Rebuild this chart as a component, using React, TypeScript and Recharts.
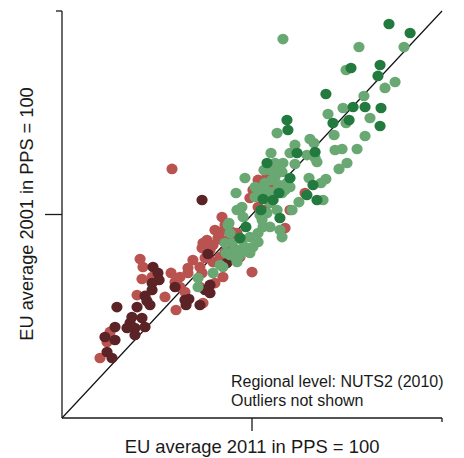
import React from "react";
import {
  ScatterChart,
  Scatter,
  XAxis,
  YAxis,
  ReferenceLine,
} from "recharts";

// GDP per head in PPS, EU = 100: x = 2011, y = 2001
type Pt = { x: number; y: number };
const pts = (rows: number[][]): Pt[] => rows.map(([x, y]) => ({ x, y }));

const lowRegions = pts([
  [73.7, 107.1], [47.9, 74.2], [50.5, 71.3], [51.1, 67.8], [47.4, 62.9],
  [43.7, 60.0], [28.9, 54.5], [46.3, 55.5], [39.5, 54.5], [36.8, 49.6],
  [35.8, 46.7], [42.1, 49.1], [43.7, 44.7], [38.4, 44.2], [38.4, 40.8],
  [27.9, 44.7], [22.6, 39.8], [27.9, 38.3], [23.7, 32.4], [26.3, 29.5],
  [59.5, 64.4], [64.7, 58.0], [76.8, 80.6], [86.8, 76.2], [77.9, 65.4],
  [75.3, 62.9], [66.8, 58.5], [65.3, 55.5], [72.6, 55.5], [47.4, 66.3],
  [77.9, 61.4], [34.2, 44.2], [44.7, 57.5],
]);

const midLowRegions = pts([
  [57.9, 122.4], [41.1, 78.1], [42.1, 68.3], [47.4, 69.3], [57.4, 71.3],
  [59.5, 66.8], [62.1, 69.3], [66.3, 71.3], [64.7, 61.9], [54.2, 59.5],
  [60.0, 53.1], [39.5, 60.4], [25.3, 42.3], [23.7, 37.3], [20.0, 29.5],
  [84.2, 98.8], [85.8, 94.8], [83.2, 91.4], [74.2, 86.0], [79.5, 85.0],
  [77.9, 82.6], [75.3, 78.6], [68.9, 77.6], [66.3, 73.7], [72.6, 74.2],
  [79.5, 76.7], [83.2, 79.1], [89.5, 91.4], [88.4, 88.5], [84.2, 87.5],
  [72.6, 64.4], [80.5, 66.3], [62.1, 64.4], [107.9, 119.4], [105.3, 116.0],
  [100.5, 112.0], [98.9, 108.1], [106.8, 102.2], [103.2, 103.7], [120.0, 102.2],
  [117.4, 93.4], [80.5, 92.4], [82.1, 88.5], [76.3, 87.5], [73.7, 83.5],
  [85.8, 81.6], [93.7, 79.1], [92.1, 90.9], [103.2, 117.0], [110.5, 113.0],
  [127.9, 110.6], [100.0, 71.7], [73.7, 71.3], [84.7, 69.3], [74.2, 56.5],
  [89.5, 85.0], [42.6, 74.2],
]);

const midHighRegions = pts([
  [116.3, 186.2], [156.3, 182.3], [180.0, 182.3], [149.5, 171.0], [175.3, 165.1],
  [170.0, 162.2], [158.9, 158.2], [147.9, 152.3], [140.0, 149.4], [149.5, 145.0],
  [162.1, 147.4], [113.2, 140.0], [143.2, 139.1], [159.5, 138.6], [155.3, 132.2],
  [147.4, 132.2], [130.5, 137.1], [122.6, 134.2], [120.0, 130.2], [132.6, 135.1],
  [128.9, 129.2], [133.2, 127.8], [134.2, 125.8], [150.0, 125.3], [145.8, 122.4],
  [122.6, 124.8], [112.1, 125.3], [114.2, 121.9], [110.0, 130.2], [96.3, 117.9],
  [91.6, 110.6], [130.0, 117.9], [138.9, 117.4], [136.3, 115.5], [120.0, 113.5],
  [124.7, 106.1], [137.4, 107.1], [114.2, 114.5], [112.1, 118.4], [106.3, 121.9],
  [108.9, 111.1], [115.8, 110.6], [107.9, 100.7], [105.3, 97.3], [94.7, 103.7],
  [101.6, 108.6], [121.1, 102.2], [116.3, 125.3], [106.8, 115.5], [110.5, 117.0],
  [118.4, 115.5], [117.4, 112.0], [101.6, 113.5], [105.3, 110.6], [109.5, 105.7],
  [113.2, 102.2], [104.2, 99.8], [105.8, 93.9], [109.5, 93.9], [103.2, 90.9],
  [98.9, 88.9], [94.7, 87.5], [115.8, 88.9], [114.7, 92.4], [87.4, 94.8],
  [88.4, 90.9], [89.5, 86.0], [96.3, 84.0], [93.7, 82.6], [100.5, 84.0],
  [103.2, 86.5], [98.9, 81.1], [90.0, 81.6], [85.8, 86.0], [93.7, 102.2],
  [95.3, 98.8], [143.7, 131.7], [109.5, 121.9], [115.8, 120.9], [113.2, 112.0],
  [104.2, 113.0], [92.1, 102.2], [87.9, 95.8], [86.3, 81.1], [91.1, 79.1],
  [84.7, 74.2], [79.5, 71.3], [71.6, 68.8], [71.6, 64.4], [83.2, 75.2],
  [88.4, 80.1], [93.7, 80.1], [92.1, 76.7],
]);

const highRegions = pts([
  [172.1, 193.6], [183.2, 189.2], [152.1, 172.0], [167.4, 173.5], [166.3, 168.1],
  [138.9, 159.2], [153.2, 152.8], [159.5, 152.8], [167.9, 152.3], [151.1, 146.4],
  [142.6, 145.0], [167.4, 143.5], [118.4, 146.4], [118.9, 141.5], [123.7, 130.2],
  [133.2, 130.7], [107.9, 125.3], [120.0, 117.9], [132.1, 114.5], [128.9, 109.6],
  [134.2, 107.1], [105.8, 107.6], [111.1, 107.1], [114.7, 98.3], [96.8, 93.9],
  [93.7, 88.5], [114.2, 110.6], [104.7, 102.2],
]);

const diagonal = [
  { x: 0, y: 0 },
  { x: 200, y: 200 },
];

const yTickLen: Record<number, number> = { 100: 17, 200: 6 };
const xTickLen: Record<number, number> = { 100: 13, 200: 4 };

const dot = (fill: string) => (p: any) =>
  <ellipse cx={p.cx} cy={p.cy} rx={5.6} ry={5.3} fill={fill} />;

const font = "'Liberation Sans', Arial, sans-serif";

export default function App() {
  return (
    <div style={{ position: "relative", width: 464, height: 458, background: "#fff" }}>
      <style>{"body{margin:0}"}</style>
      <ScatterChart
        width={464}
        height={458}
        margin={{ top: 11, right: 22, bottom: 0, left: 0 }}
      >
        <XAxis
          type="number"
          dataKey="x"
          domain={[0, 200]}
          ticks={[100, 200]}
          interval={0}
          height={40}
          tickSize={0}
          tickMargin={0}
          tickLine={false}
          axisLine={{ stroke: "#1a1a1a", strokeWidth: 1.3 }}
          tick={(p: any) => (
            <line
              x1={p.x}
              x2={p.x}
              y1={p.y}
              y2={p.y + (xTickLen[p.payload.value] ?? 0)}
              stroke="#1a1a1a"
              strokeWidth={1.3}
            />
          )}
        />
        <YAxis
          type="number"
          dataKey="y"
          domain={[0, 200]}
          ticks={[100, 200]}
          interval={0}
          width={62}
          tickSize={0}
          tickMargin={0}
          tickLine={false}
          axisLine={{ stroke: "#1a1a1a", strokeWidth: 1.3 }}
          tick={(p: any) => (
            <line
              x1={p.x - (yTickLen[p.payload.value] ?? 0)}
              x2={p.x}
              y1={p.y}
              y2={p.y}
              stroke="#1a1a1a"
              strokeWidth={1.3}
            />
          )}
        />
        <ReferenceLine segment={diagonal} stroke="#111" strokeWidth={1.2} />
        <Scatter data={midLowRegions} shape={dot("#b9534f")} isAnimationActive={false} />
        <Scatter data={lowRegions} shape={dot("#5b2325")} isAnimationActive={false} />
        <Scatter data={midHighRegions} shape={dot("#69a873")} isAnimationActive={false} />
        <Scatter data={highRegions} shape={dot("#237a3e")} isAnimationActive={false} />
      </ScatterChart>
      <svg
        width={464}
        height={458}
        style={{ position: "absolute", left: 0, top: 0, pointerEvents: "none" }}
        fontFamily={font}
        fill="#1a1a1a"
      >
        <text x={33} y={214} fontSize={18.2} textAnchor="middle" transform="rotate(-90 33 214)">
          EU average 2001 in PPS = 100
        </text>
        <text x={252} y={453} fontSize={18.4} textAnchor="middle">
          EU average 2011 in PPS = 100
        </text>
        <text x={231} y={387} fontSize={16}>
          Regional level: NUTS2 (2010)
        </text>
        <text x={231} y={405.5} fontSize={16}>
          Outliers not shown
        </text>
      </svg>
    </div>
  );
}
